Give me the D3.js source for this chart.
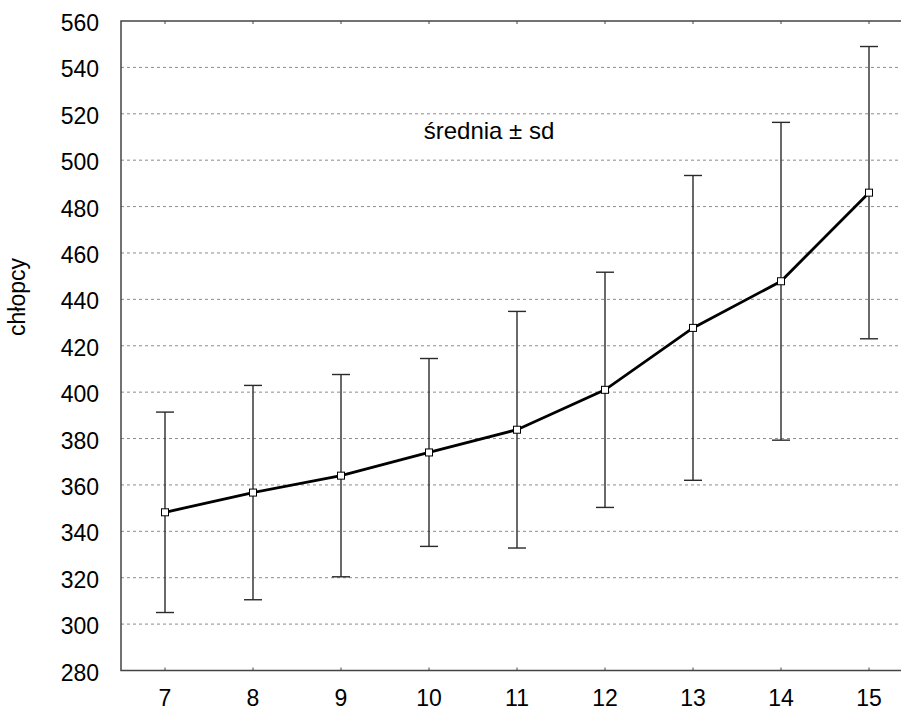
<!DOCTYPE html>
<html>
<head>
<meta charset="utf-8">
<script src="https://cdn.jsdelivr.net/npm/d3@7"></script>
<style>
  body { margin: 0; background: #fff; }
  text { font-family: "Liberation Sans", Arial, Helvetica, sans-serif; fill: #000; }
</style>
</head>
<body>
<div id="chart"></div>
<script>
// wiek (lata) vs. średnia ± sd, chłopcy
const ages = [7, 8, 9, 10, 11, 12, 13, 14, 15];
const means = [348.2, 356.7, 364.0, 374.0, 383.8, 401.0, 427.7, 447.8, 486.0];
const sds = [43.2, 46.2, 43.6, 40.5, 51.0, 50.7, 65.7, 68.5, 63.0];
const yTicks = [280, 300, 320, 340, 360, 380, 400, 420, 440, 460, 480, 500, 520, 540, 560];

const width = 901, height = 710;
const plotLeft = 121, plotTop = 21, plotRight = 913, plotBottom = 670.5;

const svg = d3.select('#chart').append('svg')
    .attr('width', width)
    .attr('height', height);

const x = d3.scaleLinear().domain([6.5, 15.5]).range([plotLeft, plotRight]);
const y = d3.scaleLinear().domain([280, 560]).range([plotBottom, plotTop]);

// grid lines
svg.append('g')
    .selectAll('line')
    .data(yTicks.filter(d => d > 280 && d < 560))
    .enter().append('line')
    .attr('x1', plotLeft)
    .attr('x2', plotRight)
    .attr('y1', d => y(d))
    .attr('y2', d => y(d))
    .attr('stroke', '#8c8c8c')
    .attr('stroke-width', 1)
    .attr('stroke-dasharray', '3,3');

// y axis labels
svg.append('g')
    .selectAll('text')
    .data(yTicks)
    .enter().append('text')
    .attr('x', 99)
    .attr('y', d => y(d) + 10)
    .attr('text-anchor', 'end')
    .attr('font-size', 23)
    .text(d => d);

// x axis labels
svg.append('g')
    .selectAll('text')
    .data(ages)
    .enter().append('text')
    .attr('x', d => x(d))
    .attr('y', 706)
    .attr('text-anchor', 'middle')
    .attr('font-size', 23)
    .text(d => d);

// frame
svg.append('path')
    .attr('d', `M${plotRight},${plotTop}H${plotLeft}V${plotBottom}H${plotRight}`)
    .attr('fill', 'none')
    .attr('stroke', '#444')
    .attr('stroke-width', 1.5);

// small inward ticks top and bottom
svg.append('g')
    .selectAll('line')
    .data(ages)
    .enter().append('line')
    .attr('x1', d => x(d)).attr('x2', d => x(d))
    .attr('y1', plotTop).attr('y2', plotTop + 3)
    .attr('stroke', '#444');
svg.append('g')
    .selectAll('line')
    .data(ages)
    .enter().append('line')
    .attr('x1', d => x(d)).attr('x2', d => x(d))
    .attr('y1', plotBottom).attr('y2', plotBottom - 3)
    .attr('stroke', '#444');

// error bars
const bars = svg.append('g')
    .attr('stroke', '#2a2a2a')
    .attr('stroke-width', 1.4);
ages.forEach((a, i) => {
    const hi = y(means[i] + sds[i]), lo = y(means[i] - sds[i]);
    bars.append('line').attr('x1', x(a)).attr('x2', x(a)).attr('y1', hi).attr('y2', lo);
    bars.append('line').attr('x1', x(a) - 9).attr('x2', x(a) + 9).attr('y1', hi).attr('y2', hi);
    bars.append('line').attr('x1', x(a) - 9).attr('x2', x(a) + 9).attr('y1', lo).attr('y2', lo);
});

// mean line
const line = d3.line()
    .x((d, i) => x(ages[i]))
    .y(d => y(d));
svg.append('path')
    .datum(means)
    .attr('d', line)
    .attr('fill', 'none')
    .attr('stroke', '#000')
    .attr('stroke-width', 2.8);

// markers
svg.append('g')
    .selectAll('rect')
    .data(means)
    .enter().append('rect')
    .attr('x', (d, i) => x(ages[i]) - 3.5)
    .attr('y', d => y(d) - 3.5)
    .attr('width', 7)
    .attr('height', 7)
    .attr('fill', '#fff')
    .attr('stroke', '#000')
    .attr('stroke-width', 1);

// annotation
svg.append('text')
    .attr('x', 489)
    .attr('y', 139)
    .attr('text-anchor', 'middle')
    .attr('font-size', 24)
    .text('średnia ± sd');

// y axis title
svg.append('text')
    .attr('transform', 'translate(25,297) rotate(-90)')
    .attr('text-anchor', 'middle')
    .attr('font-size', 23)
    .text('chłopcy');
</script>
</body>
</html>
